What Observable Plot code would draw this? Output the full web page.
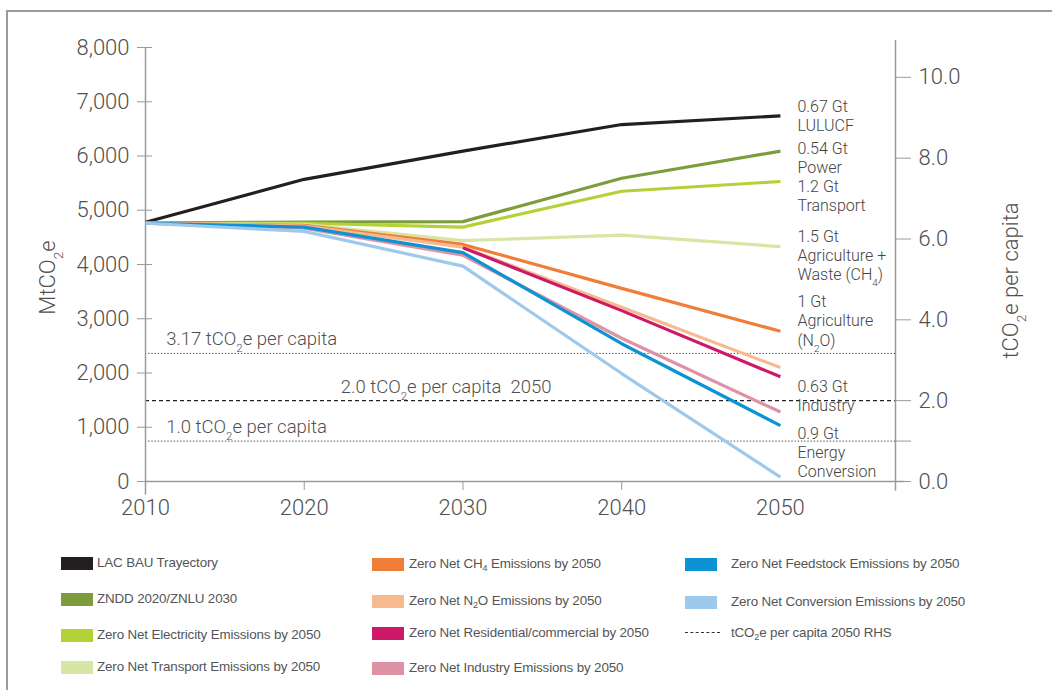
<!DOCTYPE html>
<html><head><meta charset="utf-8">
<script src="https://cdn.jsdelivr.net/npm/d3@7"></script>
<script src="https://cdn.jsdelivr.net/npm/@observablehq/plot@0.6"></script>
<style>
body{margin:0;background:#fff;}
#wrap{position:relative;width:1052px;height:690px;overflow:hidden;background:#fff;}
#frame{position:absolute;left:6px;top:10px;right:-10px;bottom:-10px;border-left:2px solid #9a9a9a;border-top:2px solid #9a9a9a;}
#chart{position:absolute;left:0;top:0;}
.leg{position:absolute;font-family:"Liberation Sans Narrow","Liberation Sans",Arial,sans-serif;font-size:13.4px;letter-spacing:-0.15px;color:#555;white-space:nowrap;line-height:16px;}
.leg .sw{position:absolute;left:0;top:2px;width:32px;height:13px;}
.leg .dash{position:absolute;left:0;top:7px;width:35px;border-top:1.3px dashed #333;}
.leg sub{font-size:9px;vertical-align:-3px;line-height:0;}
</style></head>
<body><div id="wrap"><div id="frame"></div><div id="chart"></div><div id="legend"></div></div>
<script>
// ---- data (MtCO2e) ----
const years = [2010, 2020, 2030, 2040, 2050];
const seriesNames = [
  "LAC BAU Trayectory",
  "ZNDD 2020/ZNLU 2030",
  "Zero Net Electricity Emissions by 2050",
  "Zero Net Transport Emissions by 2050",
  "Zero Net CH_4 Emissions by 2050",
  "Zero Net N_2O Emissions by 2050",
  "Zero Net Residential/commercial by 2050",
  "Zero Net Industry Emissions by 2050",
  "Zero Net Feedstock Emissions by 2050",
  "Zero Net Conversion Emissions by 2050"
];
const seriesColors = ["#231f20","#7d9d3c","#b3d236","#d7e6a4","#f07d38","#f8b98f","#cd1a68","#e092a5","#0b93d3","#9dcaec"];
const bau         = [4780, 5570, 6090, 6580, 6740];
const zndd        = [4770, 4780, 4790, 5590, 6090];
const electricity = [4760, 4760, 4690, 5350, 5530];
const transport   = [4760, 4740, 4440, 4540, 4330];
const ch4         = [4760, 4720, 4370, 3560, 2770];
const n2o         = [4760, 4710, 4320, 3210, 2100];
const residential = [null, null, 4310, 3150, 1930];
const industry    = [4760, 4670, 4170, 2640, 1280];
const feedstock   = [4760, 4690, 4220, 2540, 1030];
const conversion  = [4760, 4610, 3970, 1990, 80];
const seriesValues = [bau, zndd, electricity, transport, ch4, n2o, residential, industry, feedstock, conversion];

// right-axis (tCO2e per capita) conversion and reference lines
const PC = 745; // MtCO2e per 1 tCO2e per capita
const pcTicks = [0, 1, 2, 4, 6, 8, 10];
const refDotted = [3.17, 1.0];
const refDashed = [2.0];
const refLabels = [
  {x: 2011.3, pc: 3.17, label: "3.17 tCO_2e per capita"},
  {x: 2022.3, pc: 2.0,  label: "2.0 tCO_2e per capita  2050"},
  {x: 2011.3, pc: 1.0,  label: "1.0 tCO_2e per capita"}
];
// end-of-line annotations (label block centred at value v)
const endLabels = [
  {v: 6750, label: "0.67 Gt\nLULUCF"},
  {v: 5975, label: "0.54 Gt\nPower"},
  {v: 5270, label: "1.2 Gt\nTransport"},
  {v: 4170, label: "1.5 Gt\nAgriculture +\nWaste (CH_4)"},
  {v: 2970, label: "1 Gt\nAgriculture\n(N_2O)"},
  {v: 1590, label: "0.63 Gt\nIndustry"},
  {v: 540,  label: "0.9 Gt\nEnergy\nConversion"}
];
const xTickYears = [2010, 2020, 2030, 2040, 2050];
const xMarkYears = [2020, 2030, 2040];
const yTicks = [0, 1000, 2000, 3000, 4000, 5000, 6000, 7000, 8000];

const rows = [];
seriesNames.forEach((s, i) => seriesValues[i].forEach((v, j) => { if (v != null) rows.push({series: s, year: years[j], value: v}); }));

const xMax = 2057.25;
const FONT = "Roboto, 'Liberation Sans', Arial, sans-serif";
const axisColor = "#9a9a9a";
const textColor = "#505050";

const plot = Plot.plot({
  width: 1052, height: 540,
  marginLeft: 145, marginRight: 157, marginTop: 47, marginBottom: 59,
  style: {fontFamily: FONT, color: textColor, background: "transparent"},
  x: {domain: [2010, xMax]},
  y: {domain: [0, 8000]},
  color: {domain: seriesNames, range: seriesColors},
  marks: [
    Plot.ruleY(refDotted, {y: d => d * PC, stroke: "#333", strokeWidth: 1, strokeDasharray: "1.2,2"}),
    Plot.ruleY(refDashed, {y: d => d * PC, stroke: "#222", strokeWidth: 1.1, strokeDasharray: "4,3"}),
    Plot.ruleX([2010], {y1: -250, y2: 8000, stroke: axisColor, strokeWidth: 1.5}),
    Plot.ruleX([xMax], {y1: -180, y2: 8130, stroke: axisColor, strokeWidth: 1.5}),
    Plot.ruleY([0], {x1: 2010, x2: xMax + 0.6, stroke: axisColor, strokeWidth: 1.5}),
    // left axis
    Plot.axisY({anchor: "left", ticks: yTicks, tickSize: 15, dx: 7, tickFormat: () => "", stroke: axisColor, label: null}),
    Plot.axisY({anchor: "left", ticks: yTicks, tickSize: 0, tickPadding: 16, tickFormat: d3.format(","), fontSize: 22, fontWeight: 300, fill: textColor, label: null}),
    // right axis
    Plot.axisY({anchor: "right", ticks: pcTicks.map(p => p * PC), tickSize: 15, tickPadding: 8,
      tickFormat: v => { const p = Math.round(v / PC * 10) / 10; return p === 1 ? "" : p.toFixed(1); },
      fontSize: 22, fontWeight: 300, stroke: axisColor, fill: textColor, label: null}),
    // bottom axis
    Plot.axisX({ticks: xMarkYears, tickSize: 9, tickFormat: () => "", stroke: axisColor, label: null}),
    Plot.axisX({ticks: xTickYears, tickSize: 0, tickPadding: 18, tickFormat: d => String(d), fontSize: 22, fontWeight: 300, fill: textColor, label: null}),
    // series lines
    Plot.line(rows, {x: "year", y: "value", z: "series", stroke: "series", strokeWidth: 3.2, strokeLinejoin: "miter", strokeLinecap: "butt"}),
    // reference labels
    Plot.text(refLabels, {x: "x", y: d => d.pc * PC, text: "label", textAnchor: "start", lineAnchor: "bottom", dy: -8, fontSize: 18.5, fontWeight: 300, fill: textColor}),
    // end labels
    Plot.text(endLabels, {x: () => 2050, y: "v", text: "label", textAnchor: "start", lineAnchor: "middle", dx: 17, fontSize: 16, fontWeight: 300, lineHeight: 1.19, fill: "#444"}),
    // axis titles
    Plot.text(["MtCO_2e"], {frameAnchor: "left", text: d => d, textAnchor: "middle", rotate: -90, dx: -98, dy: 13, fontSize: 22, fontWeight: 300, fill: textColor}),
    Plot.text(["tCO_2e per capita"], {frameAnchor: "right", text: d => d, textAnchor: "middle", rotate: -90, dx: 115, dy: 16, fontSize: 22, fontWeight: 300, fill: textColor})
  ]
});

// subscripts: "_d" -> subscript digit
function subify(root) {
  root.querySelectorAll("text, tspan").forEach(el => {
    if (el.children.length) return;
    const t = el.textContent;
    if (!/_\d/.test(t)) return;
    el.textContent = "";
    t.split(/_(\d)/).forEach((p, i) => {
      if (i % 2 === 0) { if (p) el.appendChild(document.createTextNode(p)); }
      else {
        const s = document.createElementNS("http://www.w3.org/2000/svg", "tspan");
        s.setAttribute("baseline-shift", "sub");
        s.setAttribute("font-size", "62%");
        s.textContent = p;
        el.appendChild(s);
      }
    });
  });
}
subify(plot);
document.getElementById("chart").appendChild(plot);

// legend (HTML, below the plot area)
const legendCols = [
  {left: 61, textLeft: 36, items: [0, 1, 2, 3], tops: [555, 591, 627, 659]},
  {left: 372, textLeft: 37, items: [4, 5, 6, 7], tops: [556, 593, 625, 660]},
  {left: 685, textLeft: 46, items: [8, 9, -1], tops: [556, 594, 625]}
];
const leg = d3.select("#legend");
const html = s => s.replace(/_(\d)/g, "<sub>$1</sub>");
legendCols.forEach(col => {
  col.items.forEach((idx, k) => {
    const item = leg.append("div").attr("class", "leg").style("left", col.left + "px").style("top", col.tops[k] + "px");
    if (idx >= 0) {
      item.append("div").attr("class", "sw").style("background", seriesColors[idx]);
      item.append("span").style("margin-left", col.textLeft + "px").html(html(seriesNames[idx]));
    } else {
      item.append("div").attr("class", "dash");
      item.append("span").style("margin-left", col.textLeft + "px").html(html("tCO_2e per capita 2050 RHS"));
    }
  });
});
</script></body></html>
